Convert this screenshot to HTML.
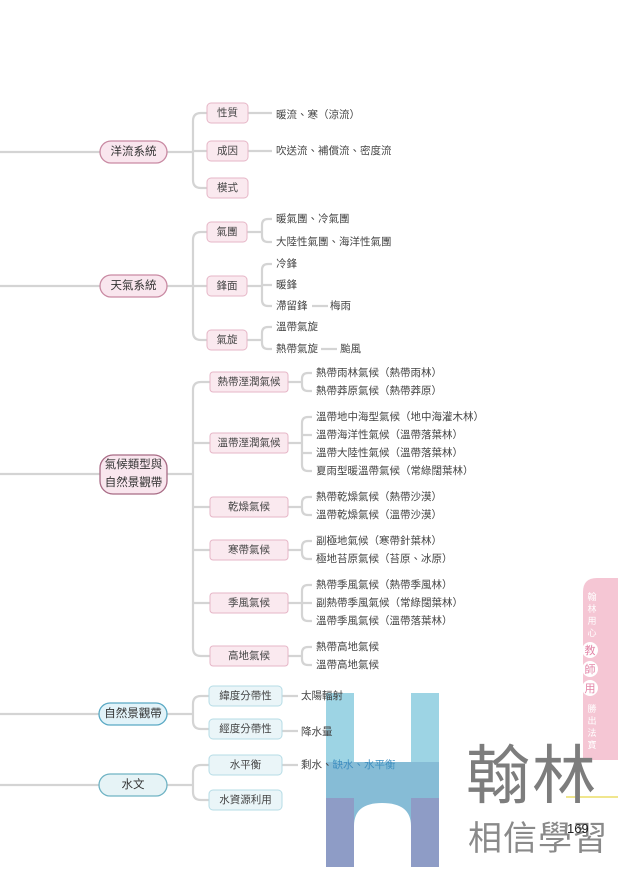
<!DOCTYPE html>
<html><head><meta charset="utf-8"><style>
html,body{margin:0;padding:0;background:#fff}
svg text{font-family:"Liberation Sans","Noto Sans CJK TC",sans-serif;fill:#444}
</style></head><body>
<svg width="618" height="867" viewBox="0 0 618 867" xmlns="http://www.w3.org/2000/svg">
<g fill="none" stroke="#d4d4d4" stroke-width="2.2">
<path d="M0 152H100M167 152H193M0 286H100M167 286H193M0 474H100M167 474H193M0 714H100M167 714H193M0 785H100M167 785H193"/>
<path d="M207 113H201Q193 113 193 121V180Q193 188 201 188H207M193 151H207"/>
<path d="M207 232H201Q193 232 193 240V332Q193 340 201 340H207M193 286H207"/>
<path d="M210 382H201Q193 382 193 390V648Q193 656 201 656H210M193 443H210M193 507H210M193 550H210M193 603H210"/>
<path d="M209 696H201Q193 696 193 704V721Q193 729 201 729H209"/>
<path d="M209 765H201Q193 765 193 773V792Q193 800 201 800H209"/>
<path d="M248 113H272M248 151H272"/>
<path d="M247 232H262M272 219H268Q262 219 262 225V236Q262 242 268 242H272"/>
<path d="M247 286H262M272 264H268Q262 264 262 270V300Q262 306 268 306H272M262 285H272M312 306H328"/>
<path d="M247 340H262M272 327H268Q262 327 262 333V343Q262 349 268 349H272M321 349H337"/>
<path d="M288 382H302M312 373H308Q302 373 302 379V385Q302 391 308 391H312"/>
<path d="M288 443H302M312 417H308Q302 417 302 423V465Q302 471 308 471H312M302 435H312M302 453H312"/>
<path d="M288 507H302M312 497H308Q302 497 302 503V509Q302 515 308 515H312"/>
<path d="M288 550H302M312 541H308Q302 541 302 547V553Q302 559 308 559H312"/>
<path d="M288 603H302M312 585H308Q302 585 302 591V615Q302 621 308 621H312M302 603H312"/>
<path d="M288 656H302M312 647H308Q302 647 302 653V659Q302 665 308 665H312"/>
<path d="M282 696H298M282 731H298M282 765H298"/>
</g>
<g stroke-width="1.3">
<rect x="100" y="141" width="67" height="22" rx="11" fill="#f9e6ee" stroke="#c98aa3"/>
<rect x="100" y="275" width="67" height="22" rx="11" fill="#f9e6ee" stroke="#c98aa3"/>
<rect x="100" y="455" width="67" height="39" rx="13" fill="#f9e6ee" stroke="#a86b85"/>
<rect x="99" y="703" width="68" height="22" rx="11" fill="#e2f3f9" stroke="#5aa9c4"/>
<rect x="99" y="774" width="68" height="22" rx="11" fill="#e6f3f6" stroke="#6fb3c4"/>
</g>
<g fill="#fae9ef" stroke="#e6b6c7" stroke-width="1">
<rect x="207" y="103" width="41" height="20" rx="4"/>
<rect x="207" y="141" width="41" height="20" rx="4"/>
<rect x="207" y="178" width="41" height="20" rx="4"/>
<rect x="207" y="222" width="40" height="20" rx="4"/>
<rect x="207" y="276" width="40" height="20" rx="4"/>
<rect x="207" y="330" width="40" height="20" rx="4"/>
<rect x="210" y="372" width="78" height="20" rx="3"/>
<rect x="210" y="433" width="78" height="20" rx="3"/>
<rect x="210" y="497" width="78" height="20" rx="3"/>
<rect x="210" y="540" width="78" height="20" rx="3"/>
<rect x="210" y="593" width="78" height="20" rx="3"/>
<rect x="210" y="646" width="78" height="20" rx="3"/>
</g>
<g fill="#eaf5f8" stroke="#b6dce6" stroke-width="1">
<rect x="209" y="686" width="73" height="20" rx="4"/>
<rect x="209" y="719" width="73" height="20" rx="4"/>
<rect x="209" y="755" width="73" height="20" rx="4"/>
<rect x="209" y="790" width="73" height="20" rx="4"/>
</g>
<g font-size="11.5" text-anchor="middle" dominant-baseline="central">
<text x="133.5" y="152" style="fill:#333">洋流系統</text>
<text x="133.5" y="286" style="fill:#333">天氣系統</text>
<text x="133.5" y="465" style="fill:#333">氣候類型與</text>
<text x="133.5" y="483" style="fill:#333">自然景觀帶</text>
<text x="133" y="714" style="fill:#333">自然景觀帶</text>
<text x="133" y="785" style="fill:#333">水文</text>
</g>
<g font-size="10.5" text-anchor="middle" dominant-baseline="central">
<text x="227.5" y="113">性質</text><text x="227.5" y="151">成因</text><text x="227.5" y="188">模式</text>
<text x="227" y="232">氣團</text><text x="227" y="286">鋒面</text><text x="227" y="340">氣旋</text>
<text x="249" y="382">熱帶溼潤氣候</text><text x="249" y="443">溫帶溼潤氣候</text><text x="249" y="507">乾燥氣候</text>
<text x="249" y="550">寒帶氣候</text><text x="249" y="603">季風氣候</text><text x="249" y="656">高地氣候</text>
<text x="245.5" y="696">緯度分帶性</text><text x="245.5" y="729">經度分帶性</text><text x="245.5" y="765">水平衡</text><text x="245.5" y="800">水資源利用</text>
</g>
<g>
<rect x="326" y="693" width="28" height="70" fill="#9dd4e4"/>
<rect x="411" y="693" width="28" height="70" fill="#9dd4e4"/>
<path d="M326 762H439V798H411V826Q411 803 382 803Q354 803 354 826V798H326Z" fill="#86bcd6"/>
<rect x="326" y="798" width="28" height="69" fill="#8e9cc6"/>
<rect x="411" y="798" width="28" height="69" fill="#8e9cc6"/>
</g>
<g font-size="10.5" dominant-baseline="central">
<text x="276" y="115">暖流、寒（涼流）</text>
<text x="276" y="151">吹送流、補償流、密度流</text>
<text x="276" y="219">暖氣團、冷氣團</text>
<text x="276" y="242">大陸性氣團、海洋性氣團</text>
<text x="276" y="264">冷鋒</text><text x="276" y="285">暖鋒</text><text x="276" y="306">滯留鋒</text><text x="330" y="306">梅雨</text>
<text x="276" y="327">溫帶氣旋</text><text x="276" y="349">熱帶氣旋</text><text x="340" y="349">颱風</text>
<text x="316" y="373">熱帶雨林氣候（熱帶雨林）</text><text x="316" y="391">熱帶莽原氣候（熱帶莽原）</text>
<text x="316" y="417">溫帶地中海型氣候（地中海灌木林）</text><text x="316" y="435">溫帶海洋性氣候（溫帶落葉林）</text>
<text x="316" y="453">溫帶大陸性氣候（溫帶落葉林）</text><text x="316" y="471">夏雨型暖溫帶氣候（常綠闊葉林）</text>
<text x="316" y="497">熱帶乾燥氣候（熱帶沙漠）</text><text x="316" y="515">溫帶乾燥氣候（溫帶沙漠）</text>
<text x="316" y="541">副極地氣候（寒帶針葉林）</text><text x="316" y="559">極地苔原氣候（苔原、冰原）</text>
<text x="316" y="585">熱帶季風氣候（熱帶季風林）</text><text x="316" y="603">副熱帶季風氣候（常綠闊葉林）</text><text x="316" y="621">溫帶季風氣候（溫帶落葉林）</text>
<text x="316" y="647">熱帶高地氣候</text><text x="316" y="665">溫帶高地氣候</text>
<text x="301" y="696">太陽輻射</text><text x="301" y="732">降水量</text>
<text x="301" y="765">剩水、<tspan fill="#3f8fc0">缺水、水平衡</tspan></text>
</g>
<path d="M618 578V760H583V592Q583 578 597 578Z" fill="#f5c6d4"/>
<g font-size="9" text-anchor="middle">
<text x="592" y="600" style="fill:#fff">翰</text><text x="592" y="612" style="fill:#fff">林</text><text x="592" y="624" style="fill:#fff">用</text><text x="592" y="636" style="fill:#fff">心</text>
<circle cx="590" cy="650" r="8" fill="#fff"/><circle cx="590" cy="669" r="8" fill="#fff"/><circle cx="590" cy="688" r="8" fill="#fff"/>
<text x="590" y="654" style="fill:#e386a8" font-size="11">教</text><text x="590" y="673" style="fill:#e386a8" font-size="11">師</text><text x="590" y="692" style="fill:#e386a8" font-size="11">用</text>
<text x="592" y="712" style="fill:#fff">勝</text><text x="592" y="724" style="fill:#fff">出</text><text x="592" y="736" style="fill:#fff">法</text><text x="592" y="748" style="fill:#fff">寶</text>
</g>
<line x1="566" y1="797" x2="618" y2="797" stroke="#e8d84a" stroke-width="1.2"/>
<text x="466" y="798" font-size="64" style="fill:#7d7d7d" letter-spacing="2">翰林</text>
<text x="468" y="850" font-size="34" style="fill:#8a8a8a" letter-spacing="1">相信學習</text>
<text x="567" y="833" font-size="13" style="fill:#222">169</text>
</svg>
</body></html>
